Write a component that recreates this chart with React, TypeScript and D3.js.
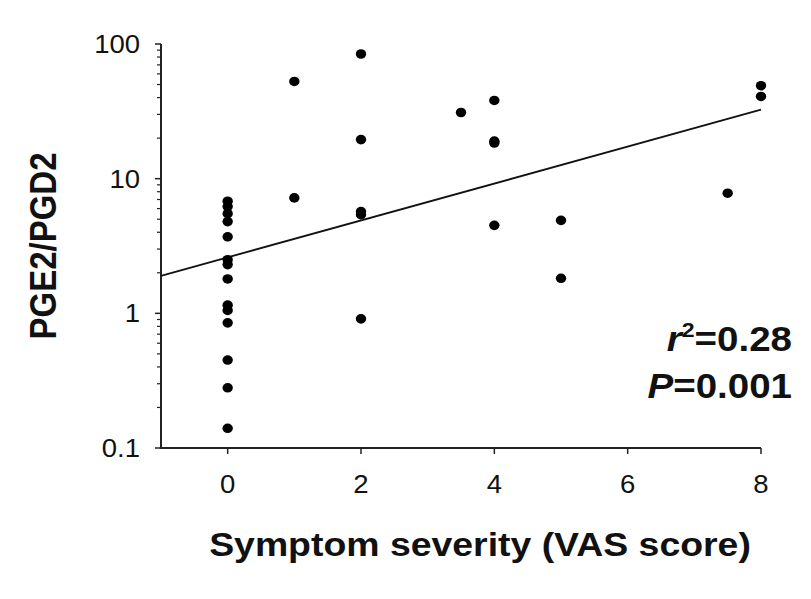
import React from 'react';
import * as d3 from 'd3';

// VAS score (x) and PGE2/PGD2 ratio (y, log scale)
const vasScore = [
  0, 0, 0, 0, 0, 0, 0, 0, 0, 0, 0, 0, 0, 0,
  1, 1,
  2, 2, 2, 2, 2,
  3.5,
  4, 4, 4, 4,
  5, 5,
  7.5,
  8, 8,
];
const pgRatio = [
  0.14, 0.28, 0.45, 0.85, 1.05, 1.15, 1.8, 2.3, 2.5, 3.7, 4.8, 5.5, 6.2, 6.8,
  52.7, 7.2,
  84.3, 19.5, 5.7, 5.4, 0.91,
  31,
  38.1, 19.0, 18.4, 4.5,
  4.9, 1.82,
  7.8,
  49, 40.8,
];

// regression line end points
const fitX = [-1, 8];
const fitY = [1.9, 32.5];

const xTicks = [0, 2, 4, 6, 8];
const yTicks = [0.1, 1, 10, 100];
const yTickLabels = ['0.1', '1', '10', '100'];

const font = 'Liberation Sans, Arial, Helvetica, sans-serif';
const sx = 1.1; // the figure is slightly stretched sideways

export default function App() {
  const x = d3.scaleLinear().domain([-1, 8]).range([161, 761]);
  const y = d3.scaleLog().domain([0.1, 100]).range([448, 44]);
  const minorTicks = y.ticks().filter((t) => !yTicks.some((m) => Math.abs(m - t) < 1e-9));

  const fitLine = d3
    .line<number>()
    .x((d) => x(d))
    .y((d, i) => y(fitY[i]));

  const axisColor = '#222';

  return (
    <svg
      width={811}
      height={599}
      style={{ position: 'absolute', left: 0, top: 0, background: '#fff' }}
      fontFamily={font}
    >
      {/* axes */}
      <line x1={x(-1)} x2={x(-1)} y1={y(100)} y2={y(0.1) + 1} stroke={axisColor} strokeWidth={2} />
      <line x1={x(-1) - 1} x2={x(8)} y1={y(0.1)} y2={y(0.1)} stroke={axisColor} strokeWidth={2} />

      {/* y ticks */}
      {yTicks.map((t) => (
        <line key={'ym' + t} x1={x(-1) - 6} x2={x(-1)} y1={y(t)} y2={y(t)} stroke={axisColor} strokeWidth={1.5} />
      ))}
      {minorTicks.map((t) => (
        <line key={'yn' + t} x1={x(-1) - 4} x2={x(-1)} y1={y(t)} y2={y(t)} stroke={axisColor} strokeWidth={1.2} />
      ))}
      {yTicks.map((t, i) => (
        <text
          key={'yl' + t}
          transform={`translate(${x(-1) - 21},${y(t)}) scale(${sx},1)`}
          textAnchor="end"
          dy="0.36em"
          fontSize={25}
          fill="#111"
        >
          {yTickLabels[i]}
        </text>
      ))}

      {/* x ticks */}
      {xTicks.map((t) => (
        <g key={'x' + t}>
          <line x1={x(t)} x2={x(t)} y1={y(0.1)} y2={y(0.1) + 6} stroke={axisColor} strokeWidth={1.5} />
          <text
            transform={`translate(${x(t)},493) scale(${sx},1)`}
            textAnchor="middle"
            fontSize={25}
            fill="#111"
          >
            {t}
          </text>
        </g>
      ))}

      {/* regression line */}
      <path d={fitLine(fitX) || ''} fill="none" stroke="#111" strokeWidth={1.8} />

      {/* points */}
      {vasScore.map((v, i) => (
        <ellipse key={'p' + i} cx={x(v)} cy={y(pgRatio[i])} rx={5.2} ry={4.8} fill="#000" />
      ))}

      {/* axis titles */}
      <text
        transform={`translate(480,556) scale(${sx},1)`}
        textAnchor="middle"
        fontSize={34}
        fontWeight="bold"
        fill="#111"
      >
        Symptom severity (VAS score)
      </text>
      <text
        transform={`translate(56,246) scale(${sx},1) rotate(-90)`}
        textAnchor="middle"
        fontSize={33}
        fontWeight="bold"
        fill="#111"
      >
        PGE2/PGD2
      </text>

      {/* statistics */}
      <text
        transform={`translate(792,351) scale(${sx},1)`}
        textAnchor="end"
        fontSize={35}
        fontWeight="bold"
        fill="#111"
      >
        <tspan fontStyle="italic">r</tspan>
        <tspan fontSize={21} dy={-14}>2</tspan>
        <tspan dy={14}>=0.28</tspan>
      </text>
      <text
        transform={`translate(792,398) scale(${sx},1)`}
        textAnchor="end"
        fontSize={35}
        fontWeight="bold"
        fill="#111"
      >
        <tspan fontStyle="italic">P</tspan>
        <tspan>=0.001</tspan>
      </text>
    </svg>
  );
}
